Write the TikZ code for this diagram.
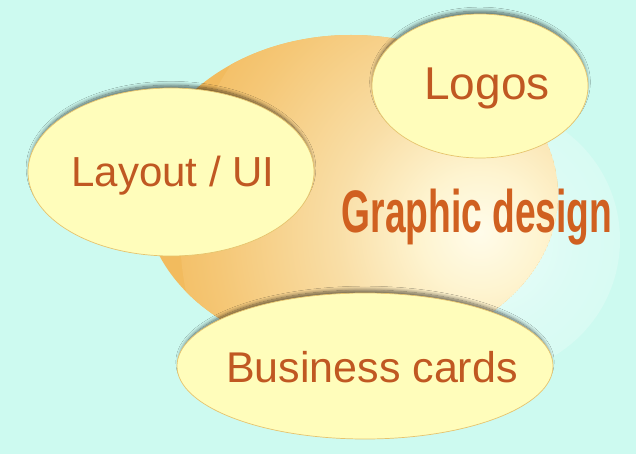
\documentclass[tikz,border=0pt]{standalone}
\usepackage{fontspec}
\setmainfont{Liberation Sans}
\usetikzlibrary{shapes.geometric,shadows.blur}
\definecolor{bg}{RGB}{205,250,240}
\definecolor{orangebase}{RGB}{242,187,94}
\definecolor{hlzero}{RGB}{255,252,234}
\definecolor{hlone}{RGB}{254,244,208}
\definecolor{hltwo}{RGB}{249,222,166}
\definecolor{hlthree}{RGB}{245,199,118}
\definecolor{glowzero}{RGB}{234,253,249}
\definecolor{glowone}{RGB}{219,251,244}
\definecolor{bubblefill}{RGB}{255,253,187}
\definecolor{edgegold}{RGB}{230,196,110}
\definecolor{txt}{RGB}{192,88,34}
\definecolor{gdtext}{RGB}{208,96,32}
\pgfdeclareradialshading{glowshade}{\pgfpoint{0bp}{0bp}}{color(0bp)=(hlzero); color(5bp)=(hlone); color(12bp)=(hltwo); color(22bp)=(hlthree); color(28bp)=(orangebase); color(50bp)=(orangebase)}
\pgfdeclareradialshading{outerglow}{\pgfpoint{0bp}{0bp}}{color(0bp)=(glowzero); color(18bp)=(glowone); color(50bp)=(bg)}
\tikzset{
  bubble/.style={ellipse, draw=edgegold, line width=0.7pt, fill=bubblefill, inner sep=0pt,
    blur shadow={shadow xshift=0pt, shadow yshift=4pt, shadow blur radius=4pt, shadow scale=0.985, shadow opacity=60, shadow blur steps=12}},
  lbl/.style={anchor=base, text=txt, inner sep=0pt},
}
\begin{document}
\begin{tikzpicture}[x=1pt,y=-1pt]
\useasboundingbox (0,0) rectangle (636,454);
\fill[bg] (0,0) rectangle (636,454);
\shade[shading=outerglow] (485,240) circle (135);
\begin{scope}
  \clip (351,195) ellipse (207 and 160);
  \fill[orangebase] (351,195) ellipse (207 and 160);
  \shade[shading=glowshade] (480,232) circle (300);
\end{scope}
\node[anchor=base, text=gdtext, inner sep=0pt, font=\fontsize{60}{72}\selectfont\bfseries] (gd) at (477,233) {\scalebox{0.62}[1]{Graphic design}};
\node[bubble, minimum width=286pt, minimum height=168pt] (layout) at (171,172) {};
\node[bubble, minimum width=216pt, minimum height=144pt] (logos) at (480,86) {};
\node[bubble, minimum width=376pt, minimum height=146pt] (cards) at (365,366) {};
\node[lbl, font=\fontsize{42}{50}\selectfont] (layouttext) at (173,187) {Layout / UI};
\node[lbl, font=\fontsize{46}{55}\selectfont] (logostext) at (487,100) {Logos};
\node[lbl, font=\fontsize{43}{52}\selectfont] (cardstext) at (372,382) {Business cards};
\end{tikzpicture}
\end{document}
